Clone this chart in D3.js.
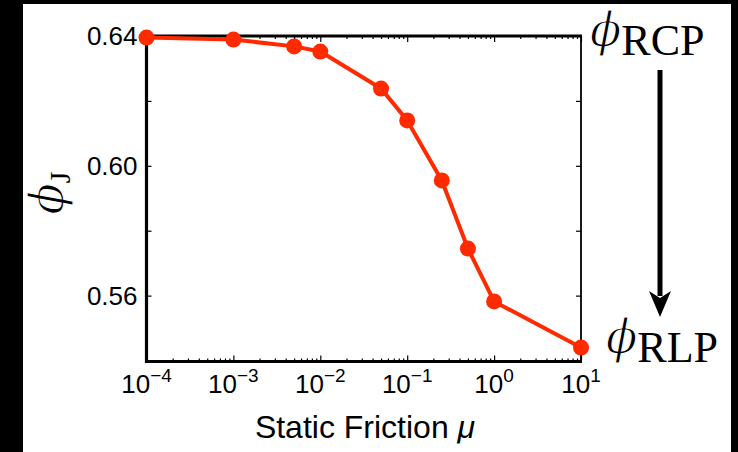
<!DOCTYPE html>
<html>
<head>
<meta charset="utf-8">
<script src="https://cdn.jsdelivr.net/npm/d3@7"></script>
<style>
  html, body { margin: 0; padding: 0; background: #000; }
  svg { display: block; }
</style>
</head>
<body>
<svg id="chart" width="738" height="452"></svg>
<script>
// Jamming packing fraction versus static friction coefficient
const frictionMu = [1e-4, 1e-3, 5e-3, 1e-2, 5e-2, 1e-1, 2.5e-1, 5e-1, 1, 10];
const phiJ = [0.6395, 0.6389, 0.6368, 0.6352, 0.6238, 0.6140, 0.5955, 0.5745, 0.5582, 0.5440];
const yTickValues = [0.56, 0.60, 0.64];
const yTickLabels = ["0.56", "0.60", "0.64"];
const xTickExponents = [-4, -3, -2, -1, 0, 1];

const svg = d3.select("#chart");

// white page inside the dark frame
svg.append("rect").attr("x", 23).attr("y", 4).attr("width", 708).attr("height", 448).attr("fill", "#fff");

const plotL = 146.5, plotR = 581, plotT = 36, plotB = 361.5;
const x = d3.scaleLog().domain([1e-4, 10]).range([plotL, plotR]);
const y = d3.scaleLinear().domain([0.5397, 0.64]).range([plotB, plotT]);

const g = svg.append("g");

// minor ticks for the log axis (2..9 of each decade)
const minorX = [];
for (let e = -4; e < 1; e++) for (let k = 2; k <= 9; k++) minorX.push(k * Math.pow(10, e));
const majorX = xTickExponents.map(e => Math.pow(10, e));
const minorY = [0.56, 0.58, 0.60, 0.62];

function styleTicks(a) {
  a.select(".domain").remove();
  a.selectAll("line").attr("stroke", "#000").attr("stroke-width", 1.2);
}

// bottom and top axis ticks (pointing inward)
g.append("g").attr("transform", `translate(0,${plotB})`)
  .call(d3.axisBottom(x).tickValues(minorX).tickSize(-3).tickFormat("")).call(styleTicks);
g.append("g").attr("transform", `translate(0,${plotB})`)
  .call(d3.axisBottom(x).tickValues(majorX).tickSize(-6).tickFormat("")).call(styleTicks);
g.append("g").attr("transform", `translate(0,${plotT})`)
  .call(d3.axisTop(x).tickValues(minorX).tickSize(-3).tickFormat("")).call(styleTicks);
g.append("g").attr("transform", `translate(0,${plotT})`)
  .call(d3.axisTop(x).tickValues(majorX).tickSize(-6).tickFormat("")).call(styleTicks);
// left / right ticks
g.append("g").attr("transform", `translate(${plotL},0)`)
  .call(d3.axisLeft(y).tickValues(minorY).tickSize(-5).tickFormat("")).call(styleTicks);
g.append("g").attr("transform", `translate(${plotR},0)`)
  .call(d3.axisRight(y).tickValues(minorY).tickSize(-5).tickFormat("")).call(styleTicks);

// frame: heavy left, bottom and top, light right
g.append("line").attr("x1", plotR).attr("x2", plotR).attr("y1", plotT).attr("y2", plotB)
  .attr("stroke", "#000").attr("stroke-width", 1.8);
g.append("line").attr("x1", plotL).attr("x2", plotR + 1).attr("y1", plotT).attr("y2", plotT)
  .attr("stroke", "#000").attr("stroke-width", 3.2);
g.append("line").attr("x1", plotL).attr("x2", plotL).attr("y1", plotT - 1.5).attr("y2", plotB + 1.5)
  .attr("stroke", "#000").attr("stroke-width", 3.2);
g.append("line").attr("x1", plotL - 1.5).attr("x2", plotR + 1).attr("y1", plotB).attr("y2", plotB)
  .attr("stroke", "#000").attr("stroke-width", 3.2);

// y tick labels
g.selectAll("text.ylab").data(yTickValues).join("text")
  .attr("class", "ylab")
  .attr("x", plotL - 9).attr("y", d => y(d) + 9)
  .attr("text-anchor", "end")
  .attr("font-family", "Liberation Sans, Arial, sans-serif")
  .attr("font-size", 26)
  .text((d, i) => yTickLabels[i]);

// x tick labels as powers of ten
const xl = g.selectAll("text.xlab").data(xTickExponents).join("text")
  .attr("class", "xlab")
  .attr("x", e => x(Math.pow(10, e)))
  .attr("y", 393)
  .attr("text-anchor", "middle")
  .attr("font-family", "Liberation Sans, Arial, sans-serif")
  .attr("font-size", 26);
xl.append("tspan").text("10");
xl.append("tspan").attr("dy", -11).attr("font-size", 19)
  .text(e => (e < 0 ? "\u2212" : "") + Math.abs(e));

// x axis title
const xt = svg.append("text").attr("x", 365).attr("y", 438).attr("text-anchor", "middle")
  .attr("font-family", "Liberation Sans, Arial, sans-serif").attr("font-size", 32);
xt.append("tspan").text("Static Friction ");
xt.append("tspan").attr("font-style", "italic").text("\u03bc");

// thin the heavy serif phi glyph with a white outline
function thinPhi(sel) {
  sel.attr("stroke", "#fff").attr("stroke-width", 1.1).attr("paint-order", "fill");
}

// y axis title (rotated)
const yt = svg.append("text").attr("transform", "translate(63,193) rotate(-90)")
  .attr("text-anchor", "middle").attr("font-family", "DejaVu Serif, Liberation Serif, serif");
yt.append("tspan").attr("font-style", "italic").attr("font-size", 46).text("\u03d5").call(thinPhi);
yt.append("tspan").attr("font-size", 30).attr("dy", 7)
  .attr("font-family", "Liberation Serif, serif").text("J");

// data line and markers
const red = "#ff2a00";
const pts = frictionMu.map((m, i) => [m, phiJ[i]]);
g.append("path").datum(pts)
  .attr("fill", "none").attr("stroke", red).attr("stroke-width", 4)
  .attr("stroke-linejoin", "round")
  .attr("d", d3.line().x(d => x(d[0])).y(d => y(d[1])));
g.selectAll("circle").data(pts).join("circle")
  .attr("cx", d => x(d[0])).attr("cy", d => y(d[1])).attr("r", 8).attr("fill", red);

// limit annotations: random close packing to random loose packing
function phiLabel(px, py, sub) {
  const t = svg.append("text").attr("x", px).attr("y", py);
  t.append("tspan").attr("font-family", "DejaVu Serif, Liberation Serif, serif")
    .attr("font-style", "italic").attr("font-size", 46).text("\u03d5").call(thinPhi);
  t.append("tspan").attr("font-family", "Liberation Serif, Times New Roman, serif")
    .attr("font-size", 44).attr("dy", 9).text(sub);
}
phiLabel(590, 46, "RCP");
phiLabel(606, 353, "RLP");

// downward arrow between the two limits
svg.append("line").attr("x1", 660).attr("x2", 660).attr("y1", 70).attr("y2", 296)
  .attr("stroke", "#000").attr("stroke-width", 5);
svg.append("path").attr("d", "M649,291 L660,298 L671,291 L660,317 Z").attr("fill", "#000");
</script>
</body>
</html>
